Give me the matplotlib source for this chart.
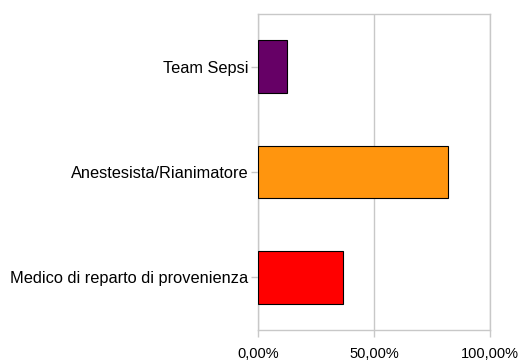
import matplotlib
matplotlib.use("Agg")
import matplotlib.pyplot as plt
from matplotlib.ticker import FuncFormatter

categories = ["Medico di reparto di provenienza", "Anestesista/Rianimatore", "Team Sepsi"]
values = [36.5, 81.9, 12.4]
colors = ["#ff0000", "#ff950e", "#660066"]
xticks = [0, 50, 100]

plt.rcParams['font.family'] = ['Liberation Sans', 'DejaVu Sans']

fig = plt.figure(figsize=(5.25, 3.63), dpi=100)
ax = fig.add_axes([258 / 525, 1 - 330 / 363, 232 / 525, 316 / 363])

ax.barh(range(len(categories)), values, height=0.5, color=colors,
        edgecolor="black", linewidth=0.8, zorder=3)

ax.set_xlim(0, 100)
ax.set_ylim(-0.5, len(categories) - 0.5)
ax.set_xticks(xticks)
ax.xaxis.set_major_formatter(FuncFormatter(lambda v, p: f"{v:.2f}".replace(".", ",") + "%"))
ax.set_yticks(range(len(categories)))
ax.set_yticklabels(categories)

ax.grid(axis="x", color="#c8c8c8", linewidth=1, zorder=0)
for s in ax.spines.values():
    s.set_color("#c8c8c8")
    s.set_linewidth(1)
ax.tick_params(axis="both", colors="#c8c8c8", labelcolor="black",
               length=5, width=1)
ax.tick_params(axis="x", labelsize=10.5, pad=7)
ax.tick_params(axis="y", labelsize=11.8, pad=2)

fig.savefig("out.png", dpi=100)
